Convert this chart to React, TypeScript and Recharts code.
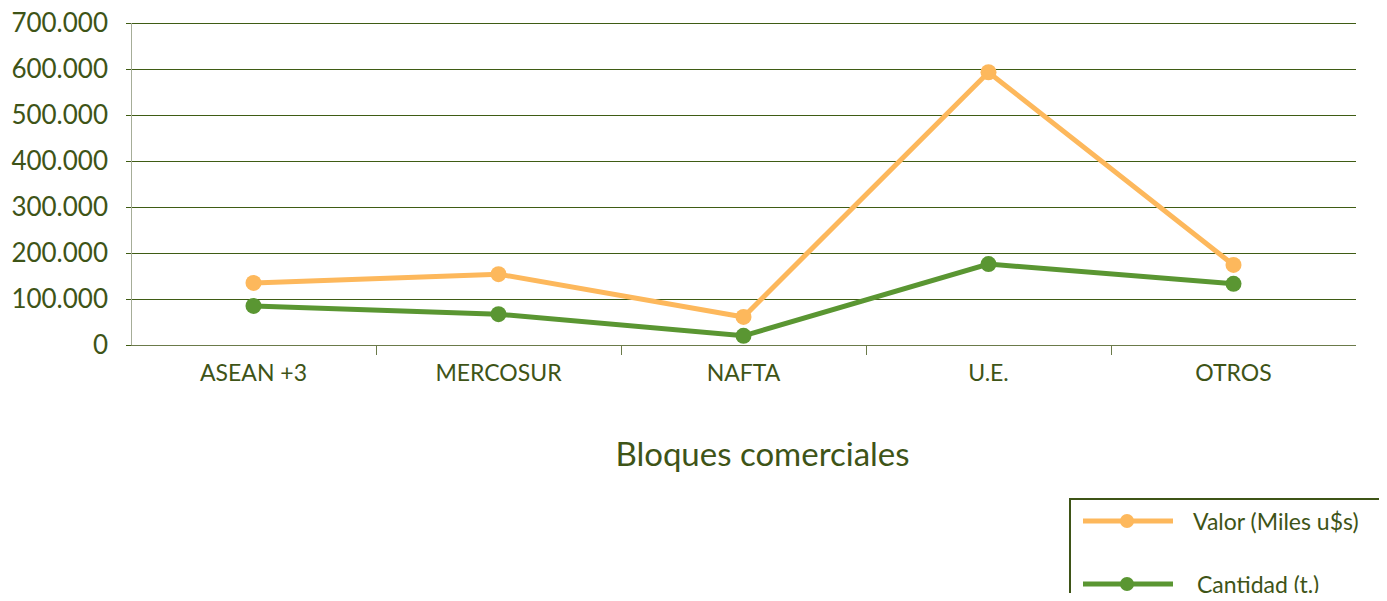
import { LineChart, Line, XAxis, YAxis, CartesianGrid, Legend } from 'recharts';

const categories = ['ASEAN +3', 'MERCOSUR', 'NAFTA', 'U.E.', 'OTROS'];
const valor = [135000, 154000, 61000, 593000, 174000];
const cantidad = [85000, 67000, 20000, 176000, 133000];
const yTicks = [0, 100000, 200000, 300000, 400000, 500000, 600000, 700000];

const ORANGE = '#fdb85c';
const GREEN = '#5a9632';
const TEXT = '#3e5417';
const FONT = 'Lato, "Open Sans", sans-serif';

const data = categories.map((name, i) => ({ name, valor: valor[i], cantidad: cantidad[i] }));

const fmt = (v: number) => v.toLocaleString('de-DE');

function CategoryTick(props: any) {
  const { x, y, payload, index, visibleTicksCount } = props;
  const half = payload.offset ?? 0;
  return (
    <g>
      <text x={x} y={y} dy={36} textAnchor="middle" fill={TEXT} fontSize={23} fontFamily={FONT}>
        {payload.value}
      </text>
      {index < visibleTicksCount - 1 && (
        <line
          x1={x + half}
          x2={x + half}
          y1={y}
          y2={y + 10}
          stroke="#6b7a4a"
          strokeWidth={1}
          shapeRendering="crispEdges"
        />
      )}
    </g>
  );
}

function AxisTitle(props: any) {
  const { viewBox } = props;
  return (
    <text
      x={viewBox.x + viewBox.width / 2 + 19}
      y={viewBox.y + 121}
      textAnchor="middle"
      fill={TEXT}
      fontSize={33}
      fontFamily={FONT}
    >
      Bloques comerciales
    </text>
  );
}

function LegendBox() {
  const items = [
    { label: 'Valor (Miles u$s)', color: ORANGE },
    { label: 'Cantidad (t.)', color: GREEN },
  ];
  return (
    <div
      style={{
        boxSizing: 'border-box',
        width: 330,
        height: 110,
        border: `2px solid ${TEXT}`,
        borderRight: 'none',
        paddingTop: 4,
        fontFamily: FONT,
      }}
    >
      {items.map((it, i) => (
        <div key={it.label} style={{ display: 'flex', alignItems: 'center', height: 33, marginBottom: 30 }}>
          <svg width={112 + i * 4} height={20} style={{ marginLeft: 10 }}>
            <line x1={2} x2={92} y1={10} y2={10} stroke={it.color} strokeWidth={5} />
            <circle cx={46} cy={10} r={7} fill={it.color} />
          </svg>
          <span style={{ color: TEXT, fontSize: 23 }}>{it.label}</span>
        </div>
      ))}
    </div>
  );
}

export default function App() {
  return (
    <div style={{ margin: -8, width: 1387, height: 601, overflow: 'hidden', background: '#fff' }}>
      <LineChart width={1387} height={601} data={data} margin={{ top: 23, right: 31, left: 0, bottom: 10 }}>
        <CartesianGrid vertical={false} stroke="#3f5c14" strokeWidth={1} shapeRendering="crispEdges" />
        <XAxis
          dataKey="name"
          scale="band"
          height={136}
          tickLine={false}
          tickSize={0}
          tickMargin={0}
          axisLine={{ stroke: '#6b7a4a', shapeRendering: 'crispEdges' }}
          tick={<CategoryTick />}
          interval={0}
          label={<AxisTitle />}
        />
        <XAxis
          xAxisId="top"
          orientation="top"
          dataKey="name"
          scale="band"
          height={0}
          tick={false}
          tickLine={false}
          axisLine={{ stroke: '#a9b09a', shapeRendering: 'crispEdges' }}
        />
        <YAxis
          width={131}
          domain={[0, 700000]}
          ticks={yTicks}
          interval={0}
          tickFormatter={fmt}
          tickSize={5}
          tickMargin={18}
          tickLine={{ stroke: '#3f5c14', shapeRendering: 'crispEdges' }}
          axisLine={{ stroke: '#a6ad98', shapeRendering: 'crispEdges' }}
          tick={{ fill: TEXT, fontSize: 26, fontFamily: FONT }}
        />
        <YAxis
          yAxisId="right"
          orientation="right"
          width={0}
          domain={[0, 700000]}
          tick={false}
          tickLine={false}
          axisLine={{ stroke: '#6e7b4f', shapeRendering: 'crispEdges' }}
        />
        <Legend
          verticalAlign="bottom"
          wrapperStyle={{ left: 1069, top: 498, bottom: 'auto', width: 330 }}
          content={() => <LegendBox />}
        />
        <Line
          dataKey="valor"
          name="Valor (Miles u$s)"
          stroke={ORANGE}
          strokeWidth={5}
          dot={{ r: 8, fill: ORANGE, stroke: 'none' }}
          activeDot={false}
          isAnimationActive={false}
        />
        <Line
          dataKey="cantidad"
          name="Cantidad (t.)"
          stroke={GREEN}
          strokeWidth={5}
          dot={{ r: 8, fill: GREEN, stroke: 'none' }}
          activeDot={false}
          isAnimationActive={false}
        />
      </LineChart>
    </div>
  );
}
